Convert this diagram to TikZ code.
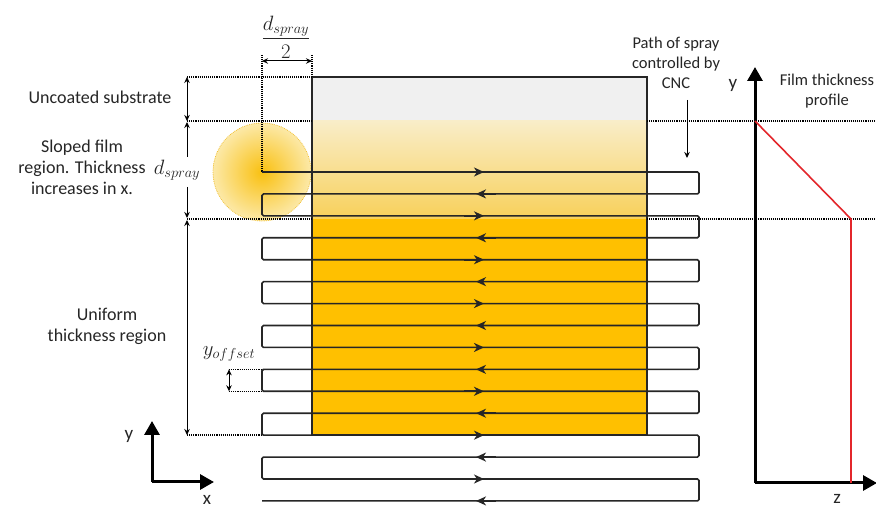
\documentclass[tikz,border=0pt]{standalone}
\usepackage{amsmath}
\usepackage{fontspec}
\setmainfont{Carlito}
\usetikzlibrary{arrows.meta}

\definecolor{orng}{HTML}{FFC000}
\definecolor{gradtop}{HTML}{F9EDC8}
\definecolor{gradbot}{HTML}{F8D05A}
\definecolor{uncoat}{HTML}{F0F0F0}
\definecolor{spraycore}{HTML}{F9C010}
\definecolor{sprayedge}{HTML}{FCE9A8}
\definecolor{sprayline}{HTML}{F2C23A}
\definecolor{profred}{HTML}{E3262B}
\definecolor{ink}{HTML}{262626}

\tikzset{
  >={Stealth[length=6pt,width=5.5pt]},
  lbl/.style={font=\fontsize{18}{21}\selectfont, text=ink, align=center, inner sep=0pt},
  lblsm/.style={font=\fontsize{16.5}{20}\selectfont, text=ink, align=center, inner sep=0pt},
  mathlbl/.style={font=\fontsize{22}{24}\selectfont, text=ink, inner sep=0pt},
  guide/.style={densely dotted, line width=1.1pt, black},
  dim/.style={line width=1pt, black},
  pathline/.style={line width=1.6pt, black!85, rounded corners=1.5pt},
  dirtip/.style={line width=1.6pt, black!85, -{Stealth[length=10pt,width=9pt,inset=3pt]}},
  axisline/.style={line width=3pt, black, -{Triangle[length=14pt,width=15pt]}},
  profile/.style={line width=1.6pt, profred},
}

\begin{document}
\begin{tikzpicture}[x=1pt,y=-1pt]
\useasboundingbox (0,0) rectangle (876,510);
\fill[white] (0,0) rectangle (876,510);

% spray spot, centred on the nozzle start point
\coordinate (nozzle) at (262,172);
\shade[inner color=spraycore, outer color=sprayedge] (nozzle) circle (49);
\draw[sprayline, densely dotted, line width=0.8pt] (nozzle) circle (49);

% substrate: uncoated strip, sloped film (gradient), uniform film
\fill[uncoat] (312,77) rectangle (647,121);
\shade[top color=gradtop, bottom color=gradbot] (312,121) rectangle (647,219);
\fill[orng] (312,219) rectangle (647,435);
\draw[black!85, line width=1.4pt] (312,77) rectangle (647,435);

% dotted reference lines
\draw[guide] (187,77) -- (312,77);
\draw[guide] (187,121) -- (312,121);
\draw[guide] (647,121) -- (876,121);
\draw[guide] (187,219) -- (312,219);
\draw[guide] (647,219) -- (876,219);
\draw[guide] (187,435) -- (262,435);
\draw[guide] (262,55) -- (nozzle);
\draw[guide] (312,55) -- (312,77);
\draw[guide] (229,{172+21.93*9}) -- (262,{172+21.93*9});
\draw[guide] (229,{172+21.93*10}) -- (262,{172+21.93*10});

% serpentine spray path
\draw[pathline] (nozzle)
  \foreach \k in {0,2,...,12} {
    -- (699,{172+21.93*\k}) -- (699,{172+21.93*(\k+1)})
    -- (262,{172+21.93*(\k+1)}) -- (262,{172+21.93*(\k+2)})
  }
  -- (699,{172+21.93*14}) -- (699,{172+21.93*15}) -- (262,{172+21.93*15});
\foreach \k in {0,2,...,14}
  \draw[dirtip] (464,{172+21.93*\k}) -- (484,{172+21.93*\k});
\foreach \k in {1,3,...,15}
  \draw[dirtip] (496,{172+21.93*\k}) -- (476,{172+21.93*\k});

% dimension arrows
\draw[dim, <->] (262,61) -- (312,61);
\draw[dim, <->] (187,77) -- (187,121);
\draw[dim, ->] (187,157) -- (187,122);
\draw[dim, ->] (187,187) -- (187,218);
\draw[dim, <->] (187,220) -- (187,435);
\draw[dim, <->] (229,{172+21.93*9}) -- (229,{172+21.93*10});

% labels
\node[mathlbl] (halfd) at (286,37) {$\dfrac{d_{spray}}{2}$};
\node[mathlbl] (dspray) at (177,170) {$d_{spray}$};
\node[mathlbl] (yoff) at (229,354) {$y_{offset}$};
\node[lbl] (uncoated) at (100,97) {Uncoated substrate};
\node[lbl] (sloped) at (82,167) {Sloped film\\region. Thickness\\increases in x.};
\node[lbl] (uniform) at (107,326) {Uniform\\thickness region};
\node[lblsm] (pathlbl) at (676,63) {Path of spray\\controlled by\\CNC};
\node[lblsm] (proflbl) at (827,91) {Film thickness\\profile};

% pointer to the spray path
\coordinate (ptrA) at (687,100);
\coordinate (ptrB) at (687,158);
\draw[dim, ->] (ptrA) -- (ptrB);

% x-y reference axes
\coordinate (o1) at (152,482);
\draw[axisline] (o1) -- (152,421);
\draw[axisline] (o1) -- (214,482);
\node[lbl, font=\fontsize{19}{21}\selectfont] (ax1y) at (129,436) {y};
\node[lbl, font=\fontsize{19}{21}\selectfont] (ax1x) at (207,500) {x};

% film thickness profile
\coordinate (o2) at (755,483);
\draw[axisline] (o2) -- (755,67);
\draw[axisline] (o2) -- (877,483);
\node[lbl, font=\fontsize{19}{21}\selectfont] (ax2y) at (733,85) {y};
\node[lbl, font=\fontsize{19}{21}\selectfont] (ax2z) at (837,499) {z};
\draw[profile] (755,121) -- (851,219) -- (851,483);
\end{tikzpicture}
\end{document}
